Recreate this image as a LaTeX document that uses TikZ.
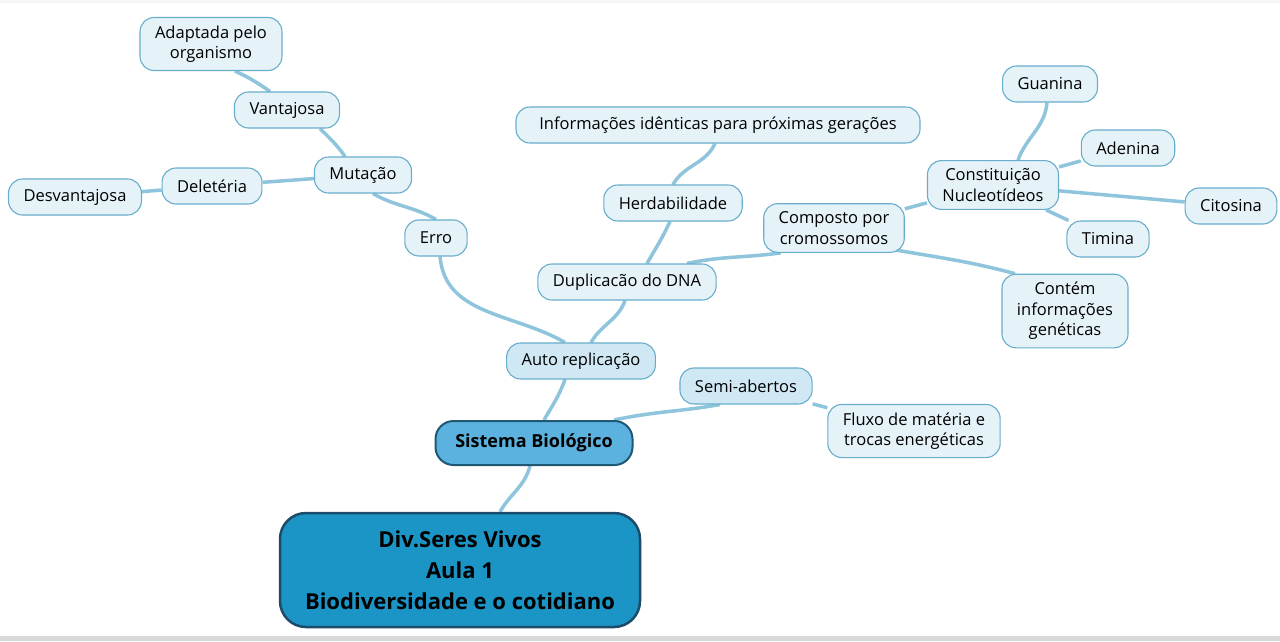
\documentclass[tikz,border=0pt]{standalone}
\usepackage{fontspec}
\setmainfont{Open Sans}
\usepackage{tikz}
\usetikzlibrary{positioning, backgrounds}
\definecolor{leaffill}{RGB}{229,243,249}
\definecolor{midfill}{RGB}{207,232,244}
\definecolor{leafline}{RGB}{104,173,203}
\definecolor{sisfill}{RGB}{91,178,222}
\definecolor{sisline}{RGB}{31,88,115}
\definecolor{rootfill}{RGB}{27,149,198}
\definecolor{rootline}{RGB}{28,76,105}
\definecolor{linkcol}{RGB}{143,197,220}

\begin{document}
\begin{tikzpicture}[
  x=1pt, y=1pt,
  leaf/.style={draw=leafline, fill=leaffill, line width=1.1pt, rounded corners=14pt,
               minimum height=36pt, inner xsep=15pt, inner ysep=8pt, align=center,
               font=\fontsize{16.5}{20.5}\selectfont},
  mid/.style={leaf, fill=midfill},
  sis/.style={draw=sisline, fill=sisfill, line width=2pt, rounded corners=18pt,
              minimum width=197pt, minimum height=44pt, align=center,
              font=\fontsize{18}{20}\selectfont\bfseries},
  root/.style={draw=rootline, fill=rootfill, line width=2.5pt, rounded corners=26pt,
               minimum width=360pt, minimum height=114pt, align=center,
               font=\fontsize{22}{31}\selectfont\bfseries},
  link/.style={draw=linkcol, line width=3.5pt}
]
  \useasboundingbox (0,0) rectangle (1280,-641);

  % main nodes
  \node[root] (root) at (460,-570) {Div.Seres Vivos\\Aula 1\\Biodiversidade e o cotidiano};
  \node[sis] (sis) at (534,-443) {Sistema Biológico};
  \node[mid] (auto) at (581,-361) {Auto replicação};
  \node[mid] (semi) at (746,-386) {Semi-abertos};
  \node[leaf] (fluxo) at (914,-431) {Fluxo de matéria e\\trocas energéticas};

  % mutation branch
  \node[leaf] (erro) at (436,-238) {Erro};
  \node[leaf] (mut) at (363,-175) {Mutação};
  \node[leaf] (delet) at (212,-186) {Deletéria};
  \node[leaf] (desv) at (75,-197) {Desvantajosa};
  \node[leaf] (vant) at (287,-110) {Vantajosa};
  \node[leaf] (adapt) at (211,-44) {Adaptada pelo\\organismo};

  % DNA branch
  \node[leaf] (dup) at (627,-282) {Duplicacão do DNA};
  \node[leaf] (herd) at (673,-203) {Herdabilidade};
  \node[leaf, minimum width=404pt] (info) at (718,-125) {Informações idênticas para próximas gerações};
  \node[leaf] (comp) at (834,-228) {Composto por\\cromossomos};
  \node[leaf] (const) at (993,-185) {Constituição\\Nucleotídeos};
  \node[leaf] (guan) at (1050,-84) {Guanina};
  \node[leaf] (aden) at (1128,-148) {Adenina};
  \node[leaf] (cito) at (1231,-206) {Citosina};
  \node[leaf] (timi) at (1108,-239) {Timina};
  \node[leaf] (contem) at (1065,-311) {Contém\\informações\\genéticas};

  \begin{scope}[on background layer]
    \fill[white] (0,0) rectangle (1280,-641);
    \fill[black!4] (0,0) rectangle (1280,-3);
    \fill[black!15] (0,-636) rectangle (1280,-641);

    \draw[link] ([xshift=40]root.north) to[out=60,in=-105] ([xshift=-4]sis.south);
    \draw[link] ([xshift=10]sis.north) to[out=60,in=-110] ([xshift=-16]auto.south);
    \draw[link] ([xshift=80]sis.north) to[out=12,in=-170] ([xshift=-26]semi.south);
    \draw[link] (semi) -- (fluxo);

    \draw[link] ([xshift=-16]auto.north) to[out=150,in=-85] ([xshift=4]erro.south);
    \draw[link] (erro.north) to[out=150,in=-30] ([xshift=10]mut.south);
    \draw[link] (mut) -- (delet);
    \draw[link] (delet) -- (desv);
    \draw[link] ([xshift=-18]mut.north) to[out=125,in=-45] ([xshift=33]vant.south);
    \draw[link] ([xshift=-17]vant.north) to[out=145,in=-25] ([xshift=24]adapt.south);

    \draw[link] ([xshift=10]auto.north) to[out=60,in=-110] ([xshift=-2]dup.south);
    \draw[link] ([xshift=20]dup.north) to[out=60,in=-115] ([xshift=-3]herd.south);
    \draw[link] (herd.north) to[out=60,in=-115] ([xshift=-3]info.south);
    \draw[link] ([xshift=60]dup.north) to[out=12,in=-172] (comp.205);
    \draw[link] (comp) -- (const);
    \draw[link] ([xshift=55,yshift=4]comp.south) to[out=-10,in=165] ([xshift=-50]contem.north);
    \draw[link] ([xshift=25]const.north) to[out=70,in=-95] ([xshift=-3]guan.south);
    \draw[link] (const) -- (aden);
    \draw[link] (const) -- (cito);
    \draw[link] (const) -- (timi);
  \end{scope}
\end{tikzpicture}
\end{document}
